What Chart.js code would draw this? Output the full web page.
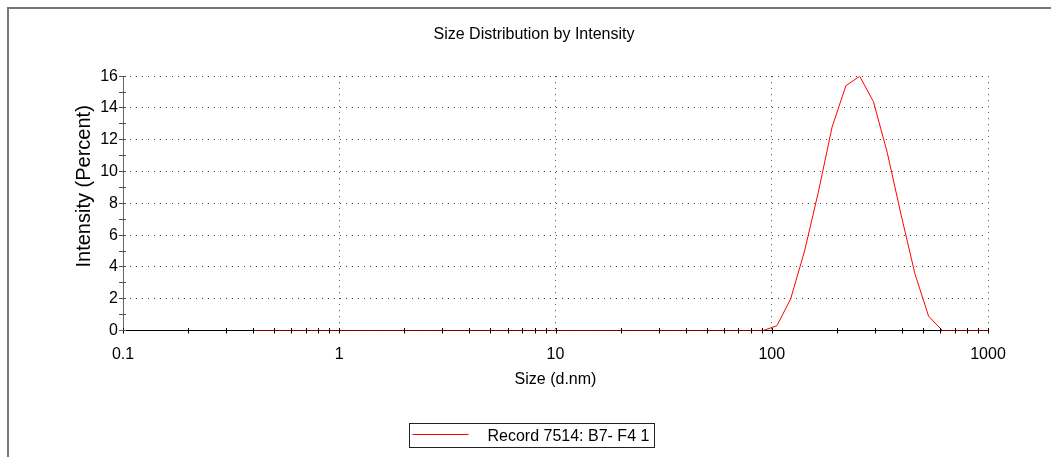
<!DOCTYPE html>
<html>

<head>
	<meta charset="utf-8">
	<title>Size Distribution by Intensity</title>
	<script src="https://cdn.jsdelivr.net/npm/chart.js@4.4.1/dist/chart.umd.min.js"></script>
	<style>
		html,
		body {
			margin: 0;
			padding: 0;
			background: #fff;
		}

		#wrap {
			position: relative;
			width: 1051px;
			height: 457px;
		}

		#frame {
			position: absolute;
			left: 7px;
			top: 7px;
			right: 0;
			bottom: 0;
			border-left: 2px solid #777;
			border-top: 2px solid #777;
			pointer-events: none;
		}
	</style>
</head>

<body>
	<div id="wrap">
		<canvas id="sizeChart" width="1051" height="457"></canvas>
		<div id="frame"></div>
	</div>
	<script>
		// size classes (d.nm) and intensity (%)
		const sizes = [
			0.4, 0.4632, 0.5365, 0.6213, 0.7195, 0.8332, 0.9649, 1.117, 1.294, 1.499,
			1.736, 2.010, 2.328, 2.696, 3.122, 3.615, 4.187, 4.849, 5.615, 6.503,
			7.531, 8.721, 10.10, 11.70, 13.54, 15.69, 18.17, 21.04, 24.36, 28.21,
			32.67, 37.84, 43.82, 50.75, 58.77, 68.06, 78.82, 91.28, 105.7, 122.4,
			141.8, 164.2, 190.1, 220.2, 255.0, 295.3, 342.0, 396.1, 458.7, 531.2,
			615.1, 712.4, 825.0, 955.4, 1106
		];
		const intensity = [
			0, 0, 0, 0, 0, 0, 0, 0, 0, 0,
			0, 0, 0, 0, 0, 0, 0, 0, 0, 0,
			0, 0, 0, 0, 0, 0, 0, 0, 0, 0,
			0, 0, 0, 0, 0, 0, 0, 0, 0.3, 2.0,
			5.0, 8.7, 12.8, 15.4, 16.0, 14.4, 11.2, 7.3, 3.6, 0.9,
			0, 0, 0, 0, 0
		];
		const seriesLabel = "Record 7514: B7- F4 1";
		const yAxisTitle = "Intensity (Percent)";
		const xTickLabels = ["0.1", "1", "10", "100", "1000"];
		const xMinorSteps = [1, 2, 3, 4, 5, 6, 7, 8, 9];
		const yTickLabels = ["0", "2", "4", "6", "8", "10", "12", "14", "16"];

		const FONT = "'Liberation Sans', Arial, sans-serif";
		Chart.defaults.font.family = FONT;
		Chart.defaults.color = "#000";

		// small tick marks that cross the axis lines, drawn over the data line
		const crossTicks = {
			id: "crossTicks",
			afterDatasetsDraw(chart) {
				const ctx = chart.ctx;
				const xs = chart.scales.x;
				const ys = chart.scales.y;
				const base = Math.round(ys.bottom - 0.5) + 0.5;
				ctx.save();
				ctx.lineWidth = 1;
				ctx.strokeStyle = "#000";
				ctx.beginPath();
				xs.ticks.forEach(t => {
					const px = Math.round(xs.getPixelForValue(t.value)) + 0.5;
					ctx.moveTo(px, base - 2.5);
					ctx.lineTo(px, base + 3);
				});
				ctx.stroke();
				ctx.strokeStyle = "#555";
				ctx.beginPath();
				ys.ticks.forEach(t => {
					const py = Math.round(ys.getPixelForValue(t.value) - 0.5) + 0.5;
					ctx.moveTo(xs.left - 4, py);
					ctx.lineTo(xs.left + 3, py);
				});
				ctx.stroke();
				ctx.restore();
			}
		};

		// y axis title, sitting a little above the middle of the axis as in the original
		const yTitle = {
			id: "yTitle",
			afterDraw(chart) {
				const ctx = chart.ctx;
				const area = chart.chartArea;
				ctx.save();
				ctx.translate(84, (area.top + area.bottom) / 2 - 17);
				ctx.rotate(-Math.PI / 2);
				ctx.font = "20px " + FONT;
				ctx.fillStyle = "#000";
				ctx.textAlign = "center";
				ctx.textBaseline = "middle";
				ctx.fillText(yAxisTitle, 0, 0);
				ctx.restore();
			}
		};

		// boxed legend under the axis title
		const boxLegend = {
			id: "boxLegend",
			afterDraw(chart) {
				const ctx = chart.ctx;
				const pad = chart.options.layout.padding;
				const ds = chart.data.datasets[0];
				ctx.save();
				ctx.font = "16px " + FONT;
				const textW = ctx.measureText(ds.label).width;
				const w = Math.round(83 + textW);
				const h = 24;
				const cx = (pad.left + chart.width - pad.right) / 2 - 3;
				const left = Math.round(cx - w / 2) + 0.5;
				const top = Math.round(chart.chartArea.bottom + 92) + 0.5;
				ctx.strokeStyle = "#222";
				ctx.lineWidth = 1;
				ctx.strokeRect(left, top, w, h);
				ctx.strokeStyle = ds.borderColor;
				ctx.beginPath();
				ctx.moveTo(left + 3, top + 11);
				ctx.lineTo(left + 59, top + 11);
				ctx.stroke();
				ctx.fillStyle = "#000";
				ctx.textBaseline = "middle";
				ctx.fillText(ds.label, left + 78, top + h / 2 + 1.5);
				ctx.restore();
			}
		};

		new Chart("sizeChart", {
			type: "line",
			data: {
				datasets: [{
					label: seriesLabel,
					data: sizes.map((s, i) => ({ x: s, y: intensity[i] })),
					borderColor: "#ff0000",
					borderWidth: 1,
					pointRadius: 0,
					tension: 0,
					fill: false
				}]
			},
			options: {
				responsive: false,
				animation: false,
				layout: { padding: { left: 80, right: 63, top: 8, bottom: 66.5 } },
				plugins: {
					legend: { display: false },
					tooltip: { enabled: false },
					title: {
						display: true,
						text: "Size Distribution by Intensity",
						font: { size: 16, weight: "normal" },
						color: "#000",
						padding: { top: 17, bottom: 32 }
					}
				},
				scales: {
					x: {
						type: "logarithmic",
						min: 0.1,
						max: 1000,
						afterFit: s => { s.height = 60; },
						afterBuildTicks: s => {
							const ticks = [];
							xTickLabels.map(Number).forEach(d => {
								xMinorSteps.forEach(m => {
									const v = d * m;
									if (v <= 1000) ticks.push({ value: v });
								});
							});
							s.ticks = ticks;
						},
						ticks: {
							autoSkip: false,
							maxRotation: 0,
							padding: 14,
							font: { size: 16 },
							color: "#000",
							callback: v => xTickLabels.includes(String(v)) ? String(v) : ""
						},
						grid: {
							drawTicks: false,
							lineWidth: 1,
							color: c => (c.tick && c.tick.value > 0.1 && xTickLabels.includes(String(c.tick.value))) ? "#444" : "rgba(0,0,0,0)"
						},
						border: { display: true, color: "#000", width: 1, dash: [1, 5] },
						title: {
							display: true,
							text: "Size (d.nm)",
							font: { size: 16 },
							color: "#000",
							padding: { top: 0, bottom: 1 }
						}
					},
					y: {
						min: 0,
						max: 16,
						afterFit: s => { s.width = 43; },
						ticks: {
							stepSize: 1,
							autoSkip: false,
							padding: 5,
							font: { size: 16 },
							color: "#000",
							callback: v => yTickLabels.includes(String(v)) ? String(v) : ""
						},
						grid: {
							drawTicks: false,
							lineWidth: 1,
							color: c => (c.tick && c.tick.value > 0 && yTickLabels.includes(String(c.tick.value))) ? "#444" : "rgba(0,0,0,0)"
						},
						border: { display: true, color: "#666", width: 1, dash: [1, 5] },
						title: { display: false }
					}
				}
			},
			plugins: [crossTicks, yTitle, boxLegend]
		});
	</script>
</body>

</html>
